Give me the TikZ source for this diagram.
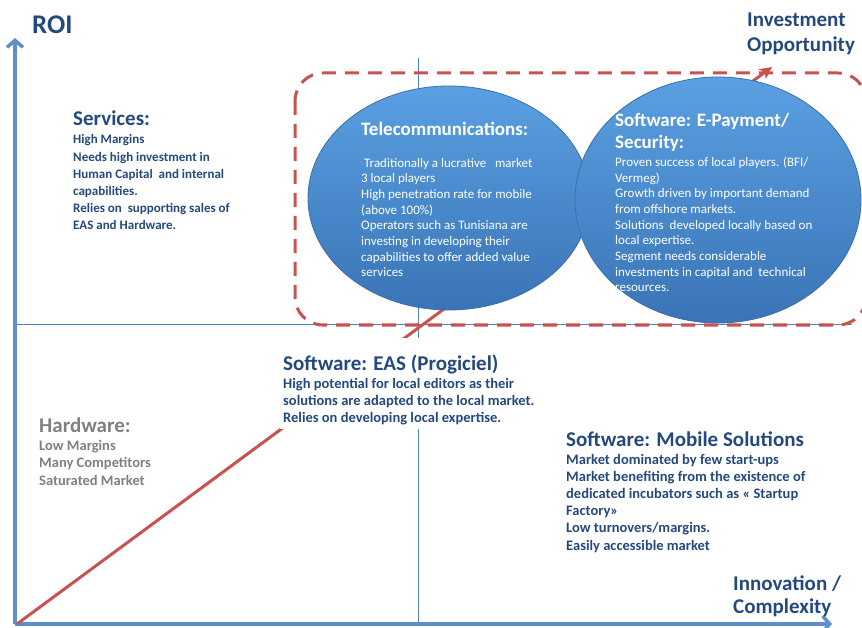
\documentclass[tikz,border=0pt]{standalone}
\usepackage{fontspec}
\setmainfont{Carlito}
\usetikzlibrary{arrows.meta,shapes.geometric}
\definecolor{dblue}{HTML}{24497C}
\definecolor{hgray}{HTML}{808080}
\definecolor{axisblue}{HTML}{5E8FCB}
\definecolor{thinblue}{HTML}{4F81BD}
\definecolor{redline}{HTML}{C8524E}
\definecolor{elltop}{HTML}{5AA0E2}
\definecolor{ellbot}{HTML}{3A74B6}
\definecolor{elldraw}{HTML}{3C6FA8}
\begin{document}
\begin{tikzpicture}[x=1pt,y=-1pt,
  axis/.style={draw=axisblue, line width=3.5pt, -{Straight Barb[length=7pt,width=16pt]}},
  thin/.style={draw=thinblue, line width=0.9pt},
  trend/.style={draw=redline, line width=3pt, -{Stealth[length=12pt,width=12pt,inset=3pt]}},
  dashbox/.style={draw=redline, line width=3pt, dash pattern=on 14pt off 9pt, rounded corners=28pt},
  bubble/.style={ellipse, inner sep=0pt, top color=elltop, bottom color=ellbot, draw=elldraw, line width=0.8pt},
  hdr/.style={anchor=base west, inner sep=0pt, align=left, text=dblue, font=\fontsize{21}{25}\selectfont\bfseries},
  bodytext/.style={anchor=base west, inner sep=0pt, align=left, text=dblue, font=\fontsize{14.5}{17.2}\selectfont\bfseries},
  wtitle/.style={anchor=base west, inner sep=0pt, align=left, text=white, font=\fontsize{19}{22}\selectfont\bfseries},
  wbody/.style={anchor=base west, inner sep=0pt, align=left, text=white, font=\fontsize{13}{15.7}\selectfont},
]
\useasboundingbox (0,0) rectangle (862,628);

% coordinates
\coordinate (O) at (15,624);
\coordinate (ytop) at (15,38);
\coordinate (xend) at (832,624);
\coordinate (vtop) at (418,58);
\coordinate (vbot) at (418,624);
\coordinate (hl) at (15,324);
\coordinate (hr) at (852,324);
\coordinate (rs) at (17,624);
\coordinate (re) at (772,67);
\coordinate (dA) at (295,73);
\coordinate (dB) at (866,325);

% quadrant lines
\draw[thin] (vtop) -- (vbot);
\draw[thin] (hl) -- (hr);

% axes
\draw[axis] (O) -- (ytop);
\draw[axis] (O) -- (xend);

% trend arrow
\draw[trend] (rs) -- (re);

% EAS block (white background hides lines); multi-line nodes are anchored at their last baseline
\node[bodytext, fill=white, inner xsep=3pt, inner ysep=4.5pt] (easbody) at (280,422.4)
  {High potential for local editors as their\\solutions are adapted to the local market.\\Relies on developing local expertise.};
\node[hdr, fill=white, inner xsep=3pt, inner ysep=1pt, text height=31pt] (eastitle) at (280,370) {Software: EAS (Progiciel)};

% ellipses
\node[bubble, minimum width=282pt, minimum height=224pt] (tel) at (449,198) {};
\node[bubble, minimum width=286pt, minimum height=246pt] (pay) at (718,200) {};

% dashed region
\draw[dashbox] (dA) rectangle (dB);

% axis labels
\node[hdr, font=\fontsize{27}{30}\selectfont\bfseries] (roi) at (32,34) {ROI};
\node[hdr] (inv) at (747,52) {Investment\\Opportunity};
\node[hdr, font=\fontsize{21}{23}\selectfont\bfseries] (innov) at (733,613) {Innovation /\\Complexity};

% Services
\node[hdr] (servtitle) at (73,126) {Services:};
\node[bodytext, font=\fontsize{13}{17.2}\selectfont\bfseries] (servbody) at (73,230)
  {High Margins\\Needs high investment in\\Human Capital\ \ and internal\\capabilities.\\Relies on\ \ supporting sales of\\EAS and Hardware.};

% Hardware
\node[hdr, text=hgray] (hwtitle) at (39,432) {Hardware:};
\node[bodytext, text=hgray, font=\fontsize{14.5}{17.4}\selectfont\bfseries] (hwbody) at (39,485)
  {Low Margins\\Many Competitors\\Saturated Market};

% Mobile
\node[hdr] (mobtitle) at (566,446) {Software: Mobile Solutions};
\node[bodytext] (mobbody) at (566,550)
  {Market dominated by few start-ups\\Market benefiting from the existence of\\dedicated incubators such as « Startup\\Factory»\\Low turnovers/margins.\\Easily accessible market};

% Telecom text
\node[wtitle] (teltitle) at (361,136) {Telecommunications:};
\node[wbody] (telbody) at (361,277)
  {\hspace{3pt}Traditionally a lucrative\ \ \ market\\3 local players\\High penetration rate for mobile\\(above 100\%)\\Operators such as Tunisiana are\\investing in developing their\\capabilities to offer added value\\services};

% E-Payment text
\node[wtitle] (paytitle) at (615,149) {Software: E-Payment/\\Security:};
\node[wbody] (paybody) at (615,292)
  {Proven success of local players. (BFI/\\Vermeg)\\Growth driven by important demand\\from offshore markets.\\Solutions\ \ developed locally based on\\local expertise.\\Segment needs considerable\\investments in capital and\ \ technical\\resources.};
\end{tikzpicture}
\end{document}
